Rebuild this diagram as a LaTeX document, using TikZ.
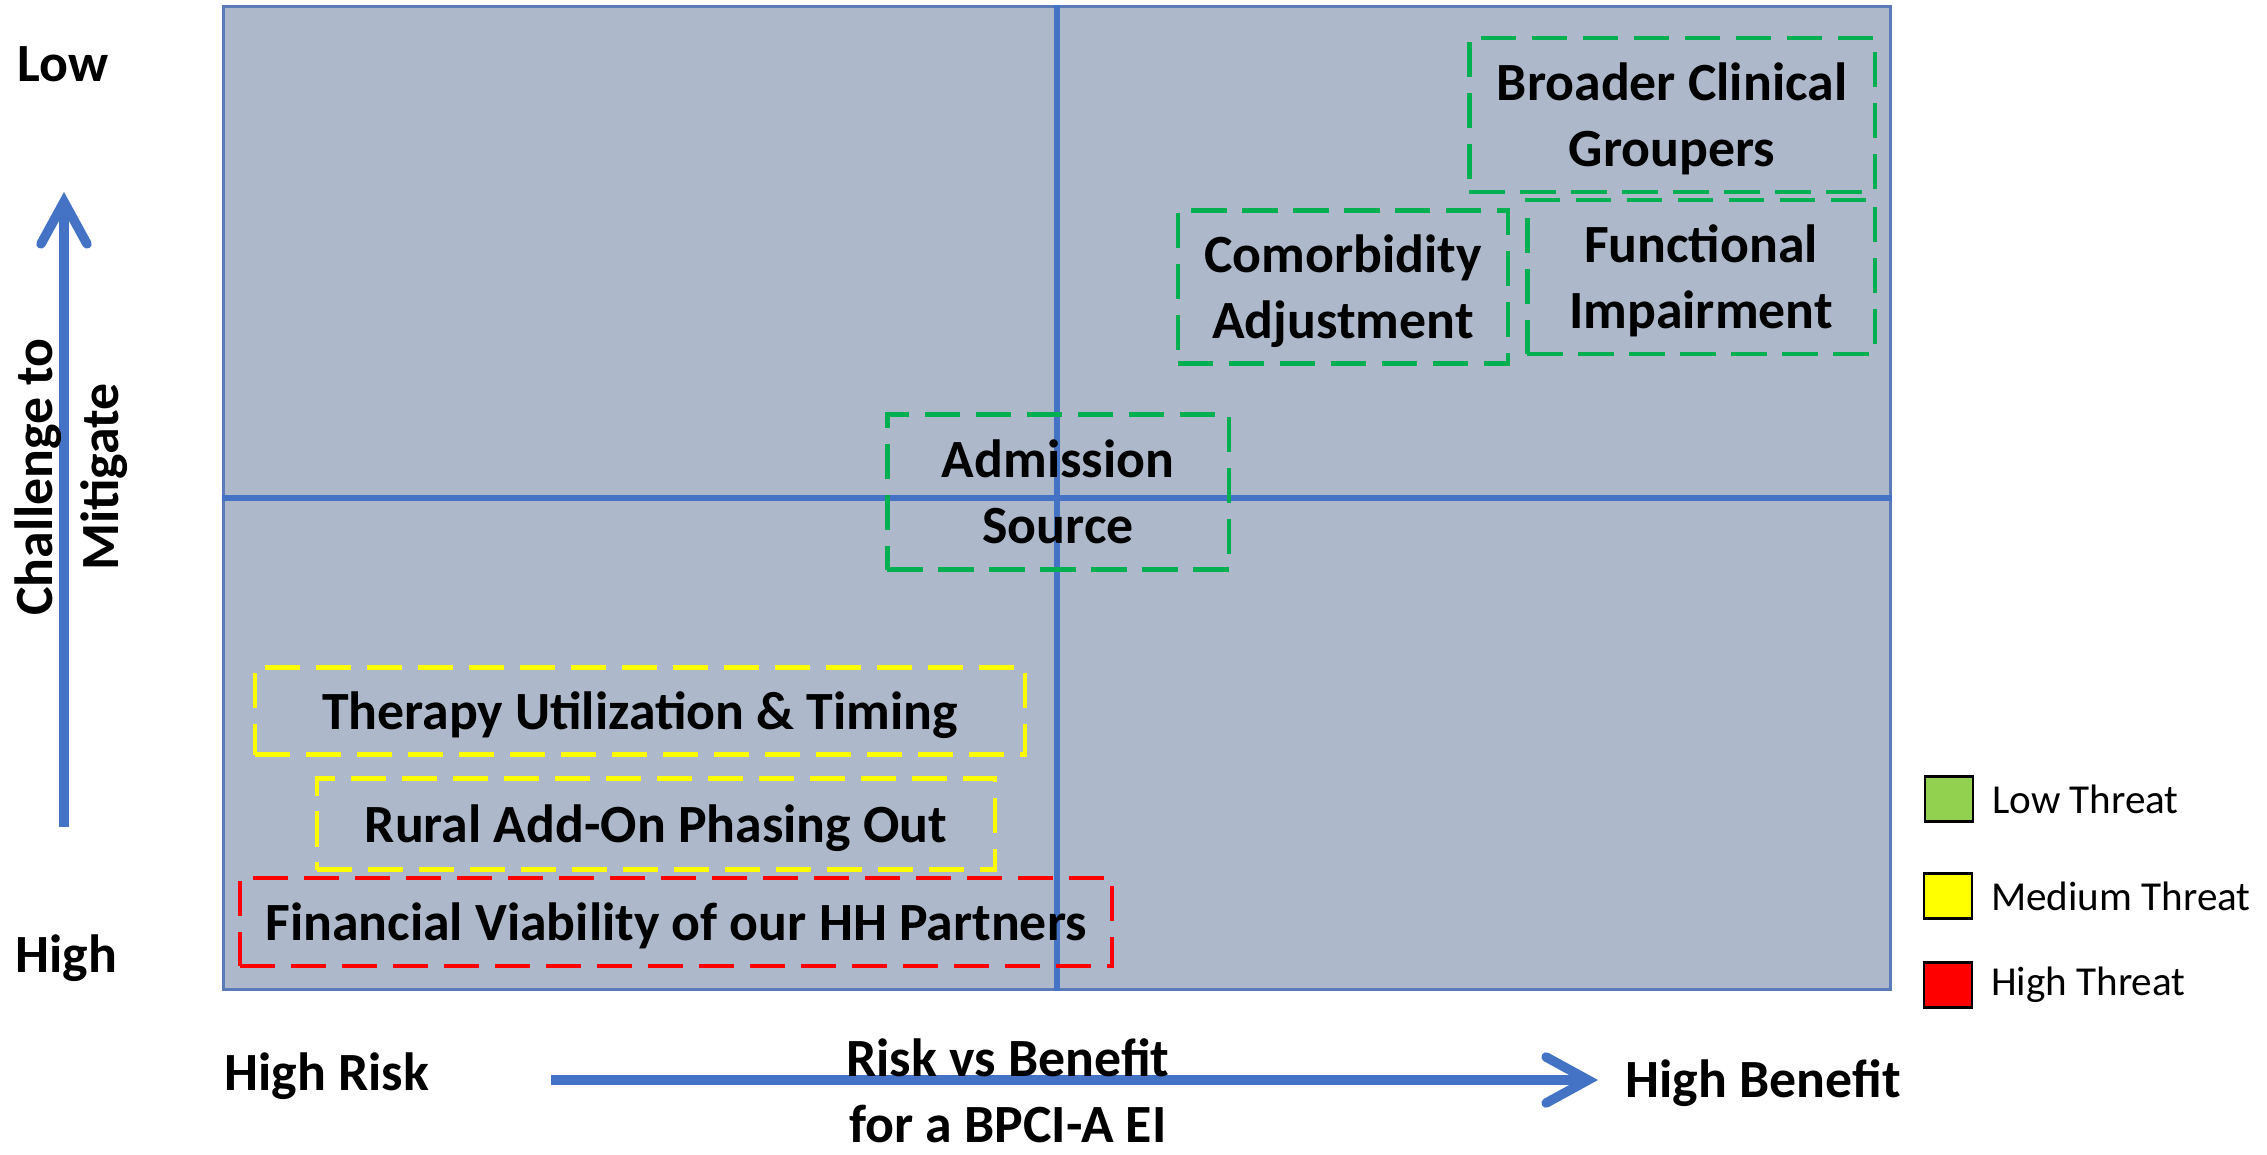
\documentclass[tikz,border=0pt]{standalone}
\usepackage{fontspec}
\setmainfont{Carlito}
\usepackage{tikz}
\usetikzlibrary{positioning, arrows.meta}

\definecolor{gridfill}{HTML}{ADB9CA}
\definecolor{gridedge}{HTML}{5B7BB8}
\definecolor{axisblue}{HTML}{4472C4}
\definecolor{lowgreen}{HTML}{00B050}
\definecolor{medyellow}{HTML}{FFFF00}
\definecolor{highred}{HTML}{FF0000}
\definecolor{keygreen}{HTML}{92D050}

\tikzset{
  riskbox/.style={draw, line width=1.2pt, dash pattern=on 10pt off 4.5pt,
    align=center, inner sep=0pt, text depth=0pt, font=\bfseries\fontsize{15.3}{18.8}\selectfont},
  lowrisk/.style={riskbox, draw=lowgreen},
  medrisk/.style={riskbox, draw=medyellow},
  highrisk/.style={riskbox, draw=highred},
  axislabel/.style={font=\bfseries\fontsize{15.3}{18.8}\selectfont, inner sep=0pt},
  axisarrow/.style={draw=axisblue, line width=2.7pt,
    -{Straight Barb[length=0.42cm, width=0.46cm, line cap=round]}},
  quadline/.style={draw=axisblue, line width=1.7pt},
  keybox/.style={draw=black, line width=0.8pt, minimum width=0.48cm, minimum height=0.45cm, inner sep=0pt},
  keytext/.style={font=\fontsize{11.7}{14}\selectfont, inner sep=0pt}
}

\begin{document}
\begin{tikzpicture}[x=0.01cm, y=-0.01cm]
  \useasboundingbox (0,0) rectangle (2267,1154);

  % the four quadrants
  \node[draw=gridedge, fill=gridfill, line width=0.8pt, inner sep=0pt,
    minimum width=16.66cm, minimum height=9.82cm] (grid) at (1057,498) {};
  \draw[quadline] (grid.north) -- (grid.south);
  \draw[quadline] (grid.west) -- (grid.east);

  % risk items
  \node[lowrisk, minimum width=4.05cm, minimum height=1.54cm] (groupers) at (1672,115) {Broader Clinical\\Groupers};
  \node[lowrisk, minimum width=3.30cm, minimum height=1.53cm] (comorbid) at (1343,287) {Comorbidity\\Adjustment};
  \node[lowrisk, minimum width=3.47cm, minimum height=1.54cm] (functional) at (1701,277) {Functional\\Impairment};
  \node[lowrisk, minimum width=3.41cm, minimum height=1.55cm] (admission) at (1058,492) {Admission\\Source};
  \node[medrisk, minimum width=7.69cm, minimum height=0.87cm] (therapy) at (640,711) {Therapy Utilization \& Timing};
  \node[medrisk, minimum width=6.77cm, minimum height=0.91cm] (rural) at (656,824) {Rural Add-On Phasing Out};
  \node[highrisk, minimum width=8.72cm, minimum height=0.88cm] (viability) at (676,922) {Financial Viability of our HH Partners};

  % vertical axis
  \coordinate (ybot) at (64,827);
  \coordinate (ytop) at (64,192);
  \draw[axisarrow] (ybot) -- (ytop);
  \node[axislabel, anchor=base west] (low) at (17,81) {Low};
  \node[axislabel, anchor=base west] (high) at (15,972) {High};
  \node[axislabel, rotate=90, align=center] (challenge) at (71,477) {Challenge to\\Mitigate};

  % horizontal axis
  \coordinate (xstart) at (551,1080);
  \coordinate (xend) at (1598,1080);
  \draw[axisarrow] (xstart) -- (xend);
  \node[axislabel, anchor=base west] (highrisk) at (224,1090) {High Risk};
  \node[axislabel, anchor=base west] (highbenefit) at (1625,1097) {High Benefit};
  \node[axislabel, align=center] (riskbenefit) at (1008,1091) {Risk vs Benefit\\for a BPCI-A EI};

  % legend
  \node[keybox, fill=keygreen] (lowkey) at (1949,799) {};
  \node[keybox, fill=medyellow] (medkey) at (1948,896) {};
  \node[keybox, fill=highred] (highkey) at (1948,985) {};
  \node[keytext, right=0.17cm of lowkey] (lowtext) {Low Threat};
  \node[keytext, right=0.17cm of medkey] (medtext) {Medium Threat};
  \node[keytext, right=0.17cm of highkey] (hightext) {High Threat};
\end{tikzpicture}
\end{document}
